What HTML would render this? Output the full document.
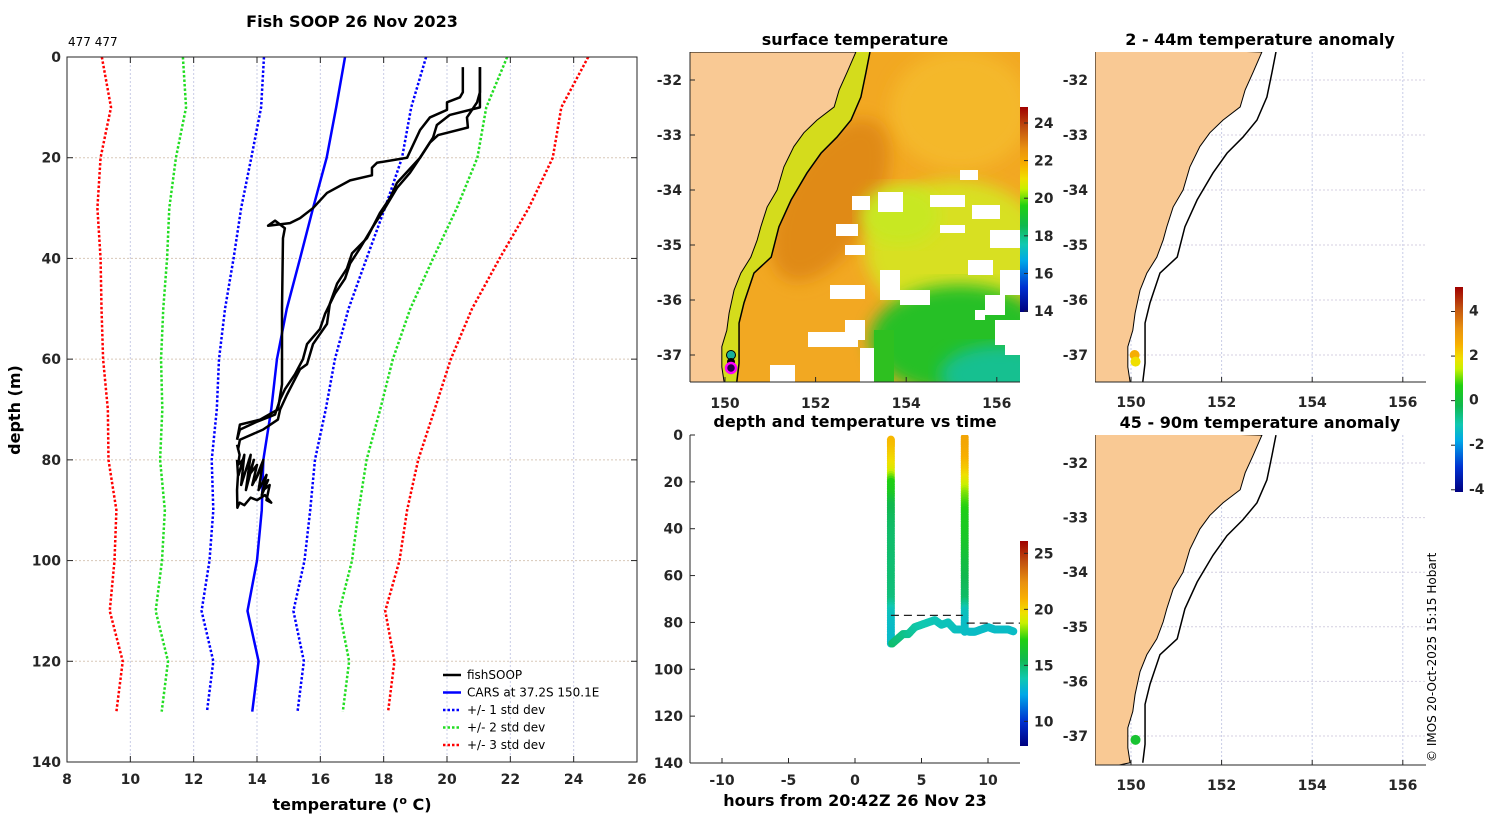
<!DOCTYPE html>
<html><head><meta charset="utf-8"><style>
html,body{margin:0;padding:0;background:#fff;}
svg{display:block;font-family:"DejaVu Sans","Liberation Sans",sans-serif;}
.tk{font-size:14px;font-weight:bold;fill:#262626;}
.ttl{font-size:16px;font-weight:bold;fill:#000;}
.lg{font-size:12px;fill:#000;}
</style></head><body>
<svg id="fig" width="1500" height="820" viewBox="0 0 1500 820">
<defs>
<clipPath id="clipMain"><rect x="67" y="57" width="570" height="705"/></clipPath>
<clipPath id="clipMap"><rect x="690" y="52" width="330" height="330"/></clipPath>
<clipPath id="clipA1"><rect x="1095" y="52" width="331" height="330"/></clipPath>
<clipPath id="clipA2"><rect x="1095" y="435" width="331" height="330"/></clipPath>
<clipPath id="clipTime"><rect x="690" y="435" width="330" height="328"/></clipPath>
<filter id="blur8"><feGaussianBlur stdDeviation="8"/></filter>
<filter id="blur4"><feGaussianBlur stdDeviation="4"/></filter>
<linearGradient id="cbJet" x1="0" y1="1" x2="0" y2="0">
<stop offset="0" stop-color="#00007F"/><stop offset="0.12" stop-color="#0030D0"/><stop offset="0.25" stop-color="#00A8E8"/><stop offset="0.33" stop-color="#10C8B0"/><stop offset="0.42" stop-color="#10B850"/><stop offset="0.52" stop-color="#20D010"/><stop offset="0.6" stop-color="#C8F000"/><stop offset="0.65" stop-color="#F0E000"/><stop offset="0.72" stop-color="#F8B000"/><stop offset="0.8" stop-color="#E89010"/><stop offset="0.9" stop-color="#C05010"/><stop offset="1" stop-color="#A00000"/>
</linearGradient>
</defs>
<g id="main"></g>
<g id="map"></g>
<g id="timechart"></g>
<g id="anom1"></g>
<g id="anom2"></g>
<text x="1436" y="762" transform="rotate(-90 1436 762)" font-size="12" fill="#000">© IMOS 20-Oct-2025 15:15 Hobart</text>
</svg>
<script>
// ===== Profile chart data =====
const carsDepth = [0,10,20,30,40,50,60,70,80,90,100,110,120,130];
const carsMean  = [16.78,16.5,16.2,15.77,15.36,14.94,14.63,14.45,14.2,14.15,14.0,13.7,14.05,13.85];
const carsStd   = [2.56,2.37,2.38,2.27,2.1,1.95,1.83,1.72,1.63,1.53,1.5,1.45,1.43,1.43];
const stdMult   = [1,2,3];
const stdColors = ['#0000ff','#22dd22','#ff0000'];
const fish1T = [21.04,21.04,20.09,19.68,19.56,19.15,18.42,18.2,17.88,17.47,17.0,16.84,16.53,16.3,16.21,15.77,15.58,15.36,14.95,14.73,14.66,14.19,13.46,13.4];
const fish1D = [2,10,11.5,13.5,16,20,25,28,31,36,39,42,45,49,53,57,61,62,67,70,72,74,76,78];
const fish2T = [21.04,21.04,20.95,20.63,20.66,19.72,19.46,19.15,18.83,18.42,18.04,17.63,17.25,16.94,16.78,16.46,16.15,15.99,15.58,15.45,15.2,14.88,14.73,14.57,13.97,13.46,13.37];
const fish2D = [2,7,9,12,14,15.5,17,20,23,26,30,34,38,41,44,47,51,54,57,60,63,66,68,71,72.5,74,76];
const fish3T = [20.5,20.5,20.41,20.0,20.0,19.46,19.15,18.74,17.79,17.63,17.63,16.94,16.21,15.77,15.36,15.04,14.35,14.57,14.88,14.82,14.79,14.79,14.66,14.1,13.46,13.37];
const fish3D = [2,7,8,9,10.5,12,14.5,20,21,22,23.5,24.5,27,30,32,33,33.5,32.5,34,36,50,65,70,72,73,76];
const fish4T = [13.37,13.45,13.4,13.55,13.42,13.6,13.5,13.7,13.55,13.8,13.65,13.9,13.75,14.0,13.85,14.1,13.95,14.2,14.05,14.3,14.15,14.35,14.2,14.4,14.3,14.45,14.25,14.0,13.8,13.6,13.45,13.38,13.37,13.4,13.37];
const fish4D = [77,79,81,80,83,79,85,81,84,79,86,80,83,81,85,82,84,80,86,83,87,84,86,85,88,88.5,87,88,87.5,89,88.5,89.5,86,83,80];
const tempTicks = [8,10,12,14,16,18,20,22,24,26];
const depthTicks = [0,20,40,60,80,100,120,140];

// ===== Depth-time chart data =====
const cast1Time = 2.7, cast2Time = 8.25;
const cast1Depth = [2,5,10,15,20,25,30,35,40,45,50,55,60,65,70,75,80,85,89];
const cast1Temp  = [20.8,20.6,20.0,19.3,17.3,16.8,15.6,15.3,15.1,15.0,15.0,14.9,14.9,14.8,14.7,13.6,13.3,13.2,13.2];
const cast2Depth = [1,5,10,15,20,25,30,35,40,45,50,55,60,65,70,75,80,84];
const cast2Temp  = [21.5,21.4,21.0,20.3,19.3,18.2,17.5,17.0,16.8,16.6,16.3,15.9,15.6,15.3,15.1,13.6,13.3,13.3];
const bottomTime  = [2.8,3.2,3.6,4.0,4.5,5.0,5.5,6.0,6.5,7.0,7.5,8.0,8.6,9.0,9.5,10.0,10.5,11.0,11.5,12.0];
const bottomDepth = [89,87,85,85,82,81,80,79,81,80,83,83,84,84,83,82,83,83,83,84];
const bottomTemp  = [15.0,14.8,14.6,14.4,14.1,13.9,13.8,13.7,13.6,13.6,13.5,13.4,13.3,13.3,13.3,13.3,13.3,13.3,13.3,13.3];
const dashDepth = [77, 80.3];
const timeTicks = [-10,-5,0,5,10];
const tcDepthTicks = [0,20,40,60,80,100,120,140];
const tcCbTicks = [10,15,20,25];

// ===== Map data =====
const coastLon = [152.89,152.69,152.52,152.41,152.03,151.74,151.52,151.3,151.15,150.93,150.79,150.71,150.57,150.35,150.2,150.09,150.04,149.93,149.93,149.98];
const coastLat = [-31.49,-31.87,-32.18,-32.49,-32.73,-32.96,-33.21,-33.58,-34.0,-34.31,-34.67,-34.91,-35.22,-35.51,-35.82,-36.24,-36.55,-36.85,-37.22,-37.49];
const isoLon = [153.2,153.11,153.0,152.78,152.47,152.12,151.81,151.46,151.19,151.02,150.64,150.42,150.31,150.31,150.26];
const isoLat = [-31.49,-31.87,-32.31,-32.73,-33.04,-33.33,-33.69,-34.18,-34.67,-35.22,-35.51,-36.05,-36.42,-37.15,-37.49];
const lonTicks = [150,152,154,156];
const latTicks = [-32,-33,-34,-35,-36,-37];
const sstTicks = [14,16,18,20,22,24];
const anomTicks = [-4,-2,0,2,4];
const anom1Lon = [150.08,150.1], anom1Lat = [-37.0,-37.12], anom1Val = [2.6,1.9];
const anom2Lon = [150.1], anom2Lat = [-37.07], anom2Val = [0.2];

const NS='http://www.w3.org/2000/svg';
function el(tag, attrs, parent){const e=document.createElementNS(NS,tag);for(const k in attrs)e.setAttribute(k,attrs[k]);parent.appendChild(e);return e;}
function txt(parent,x,y,s,cls,anchor){const t=el('text',{x:x,y:y,'class':cls,'text-anchor':anchor||'middle'},parent);t.textContent=s;return t;}

const cmStops=[[0,[0,0,127]],[0.12,[0,48,208]],[0.25,[0,168,232]],[0.33,[16,200,176]],[0.42,[16,184,80]],[0.52,[32,208,16]],[0.6,[200,240,0]],[0.65,[240,224,0]],[0.72,[248,176,0]],[0.8,[232,144,16]],[0.9,[192,80,16]],[1,[160,0,0]]];
function cmap(f){f=Math.max(0,Math.min(1,f));for(let i=1;i<cmStops.length;i++){if(f<=cmStops[i][0]){const a=cmStops[i-1],b=cmStops[i];const u=(f-a[0])/(b[0]-a[0]);const c=a[1].map((v,j)=>Math.round(v+(b[1][j]-v)*u));return 'rgb('+c.join(',')+')';}}return 'rgb(160,0,0)';}

// ================= Profile chart =================
(function(){
const g=document.getElementById('main');
const X=t=>67+(t-8)*570/18, Y=d=>57+d*705/140;
tempTicks.forEach(t=>{
  const l=el('line',{x1:X(t),x2:X(t),y1:57,y2:762,stroke:'#c8cce6','stroke-width':1,'stroke-dasharray':'2 2'},g);
  
  
  el('line',{x1:X(t),x2:X(t),y1:762,y2:756,stroke:'#262626'},g);
  el('line',{x1:X(t),x2:X(t),y1:57,y2:63,stroke:'#262626'},g);
  const tt=txt(g,X(t),784,String(t),'tk');
  
  
});
depthTicks.forEach(d=>{
  const l=el('line',{x1:67,x2:637,y1:Y(d),y2:Y(d),stroke:'#d8c8b8','stroke-width':1,'stroke-dasharray':'2 2'},g);
  
  
  el('line',{x1:67,x2:73,y1:Y(d),y2:Y(d),stroke:'#262626'},g);
  el('line',{x1:637,x2:631,y1:Y(d),y2:Y(d),stroke:'#262626'},g);
  const tt=txt(g,61,Y(d)+5,String(d),'tk','end');
  
  
});
const plot=el('g',{'clip-path':'url(#clipMain)'},g);
stdMult.forEach((k,i)=>{
  [-1,1].forEach(s=>{
    const pts=carsDepth.map((d,j)=>X(carsMean[j]+s*k*carsStd[j])+','+Y(d)).join(' ');
    const p=el('polyline',{points:pts,fill:'none',stroke:stdColors[i],'stroke-width':2.5,'stroke-dasharray':'2.5 2'},plot);
    
    
  });
});
const cp=el('polyline',{points:carsDepth.map((d,j)=>X(carsMean[j])+','+Y(d)).join(' '),fill:'none',stroke:'#0000ff','stroke-width':2.5},plot);


[[fish1T,fish1D],[fish2T,fish2D],[fish3T,fish3D],[fish4T,fish4D]].forEach((tr,i)=>{
  const p=el('polyline',{points:tr[0].map((t,j)=>X(t)+','+Y(tr[1][j])).join(' '),fill:'none',stroke:'#000','stroke-width':2.5,'stroke-linejoin':'round'},plot);
  
  
});
el('rect',{x:67,y:57,width:570,height:705,fill:'none',stroke:'#262626','stroke-width':1},g);
const ti=txt(g,352,27,'Fish SOOP 26 Nov 2023','ttl');


const sm=txt(g,68,46,'477 477','lg','start');sm.setAttribute('font-size','10');


const yl=el('text',{x:20,y:410,'class':'ttl','text-anchor':'middle',transform:'rotate(-90 20 410)'},g);yl.textContent='depth (m)';


const xl=el('text',{x:352,y:810,'class':'ttl','text-anchor':'middle'},g);
xl.innerHTML='temperature (<tspan dy="-6" font-size="11">o</tspan><tspan dy="6"> C)</tspan>';


const lg=el('g',{},g);


const items=[['fishSOOP','#000',''],['CARS at 37.2S 150.1E','#0000ff',''],['+/- 1 std dev','#0000ff','2.5 2'],['+/- 2 std dev','#22dd22','2.5 2'],['+/- 3 std dev','#ff0000','2.5 2']];
items.forEach((it,i)=>{
  const y=675+i*17.5;
  const e=el('g',{},lg);
  
  
  el('line',{x1:443,x2:461,y1:y,y2:y,stroke:it[1],'stroke-width':2.5,'stroke-dasharray':it[2]},e);
  txt(e,467,y+4,it[0],'lg','start');
});
})();

// ================= SST map =================
(function(){
const g=document.getElementById('map');
const X=l=>725+(l-150)*45.3, Y=a=>80-(a+32)*55;
const clip=el('g',{'clip-path':'url(#clipMap)'},g);
el('rect',{x:690,y:52,width:330,height:330,fill:'#F2A822'},clip);
el('ellipse',{cx:960,cy:110,rx:70,ry:60,fill:'#F4B82A',filter:'url(#blur8)'},clip);
el('ellipse',{cx:830,cy:200,rx:45,ry:90,fill:'#E08A18',filter:'url(#blur8)',transform:'rotate(30 830 200)'},clip);
el('ellipse',{cx:955,cy:250,rx:90,ry:70,fill:'#D8E020',filter:'url(#blur8)'},clip);
el('ellipse',{cx:900,cy:215,rx:40,ry:30,fill:'#C8E820',filter:'url(#blur8)'},clip);
el('ellipse',{cx:960,cy:340,rx:90,ry:55,fill:'#28C028',filter:'url(#blur8)'},clip);
el('ellipse',{cx:1000,cy:375,rx:60,ry:30,fill:'#18C090',filter:'url(#blur8)'},clip);
el('rect',{x:874,y:330,width:20,height:52,fill:'#2EC020'},clip);
const band=coastLon.map((l,j)=>X(l)+','+Y(coastLat[j])).concat(isoLon.slice().reverse().map((l,j)=>X(l)+','+Y(isoLat[isoLat.length-1-j]))).join(' ');
el('polygon',{points:band,fill:'#D4DC1C'},clip);
const wp=[[852,196,18,14],[878,192,25,20],[836,224,22,12],[960,170,18,10],[930,195,35,12],[972,205,28,14],[990,230,30,18],[940,225,25,8],[845,245,20,10],[830,285,35,14],[880,270,20,30],[900,290,30,15],[968,260,25,15],[1000,270,20,25],[985,295,20,20],[995,320,25,25],[1005,340,15,15],[808,332,50,15],[845,320,20,20],[860,348,14,34],[770,365,25,17],[975,310,10,10]];
wp.forEach(r=>el('rect',{x:r[0],y:r[1],width:r[2],height:r[3],fill:'#fff'},clip));
const land=coastLon.map((l,j)=>X(l)+','+Y(coastLat[j])).join(' ')+' 690,382 690,52';
const lp=el('polygon',{points:land,fill:'#F9C994',stroke:'#000','stroke-width':1},clip);


const ib=el('polyline',{points:isoLon.map((l,j)=>X(l)+','+Y(isoLat[j])).join(' '),fill:'none',stroke:'#000','stroke-width':1.5},clip);


el('circle',{cx:731,cy:355,r:4.5,fill:'#18B098',stroke:'#000','stroke-width':1},clip);
el('circle',{cx:731,cy:362,r:4,fill:'#000'},clip);
el('circle',{cx:731,cy:368,r:5,fill:'#220044',stroke:'#FF00FF','stroke-width':2.5},clip);
latTicks.forEach(a=>{el('line',{x1:690,x2:695,y1:Y(a),y2:Y(a),stroke:'#262626'},g);
  const t=txt(g,682,Y(a)+5,String(a),'tk','end');
  
  });
lonTicks.forEach(l=>{el('line',{x1:X(l),x2:X(l),y1:382,y2:377,stroke:'#262626'},g);
  const t=txt(g,X(l),408,String(l),'tk');
  
  });
el('line',{x1:690,x2:690,y1:52,y2:382,stroke:'#262626'},g);
el('line',{x1:690,x2:1020,y1:382,y2:382,stroke:'#262626'},g);
const t=txt(g,855,45,'surface temperature','ttl');


const cb=el('rect',{x:1020,y:107,width:8,height:205,fill:'url(#cbJet)'},g);


const CY=v=>312-(v-13.95)*205/10.9;
sstTicks.forEach(v=>{el('line',{x1:1028,x2:1024,y1:CY(v),y2:CY(v),stroke:'#262626'},g);txt(g,1034,CY(v)+5,String(v),'tk','start');});
})();

// ================= Depth-time chart =================
(function(){
const g=document.getElementById('timechart');
const X=t=>855+t*(988-855)/10, Y=d=>435+d*328/140;
const cf=v=>cmap((v-7.8)/(26.1-7.8));
const clip=el('g',{'clip-path':'url(#clipTime)'},g);
function dot(t,d,v){const c=el('circle',{cx:X(t),cy:Y(d),r:4,fill:cf(v)},clip);
  
  }
function cast(tm,D,T){for(let i=0;i<D.length-1;i++){for(let k=0;k<5;k++){const u=k/5;dot(tm,D[i]+(D[i+1]-D[i])*u,T[i]+(T[i+1]-T[i])*u);}}dot(tm,D[D.length-1],T[T.length-1]);}
cast(cast1Time,cast1Depth,cast1Temp);
cast(cast2Time,cast2Depth,cast2Temp);
for(let i=0;i<bottomTime.length-1;i++){for(let k=0;k<5;k++){const u=k/5;dot(bottomTime[i]+(bottomTime[i+1]-bottomTime[i])*u,bottomDepth[i]+(bottomDepth[i+1]-bottomDepth[i])*u,bottomTemp[i]+(bottomTemp[i+1]-bottomTemp[i])*u);}}
const d1=el('line',{x1:X(cast1Time),x2:X(8.1),y1:Y(dashDepth[0]),y2:Y(dashDepth[0]),stroke:'#222','stroke-width':1.3,'stroke-dasharray':'8 5'},g);


const d2=el('line',{x1:X(8.4),x2:1020,y1:Y(dashDepth[1]),y2:Y(dashDepth[1]),stroke:'#222','stroke-width':1.3,'stroke-dasharray':'8 5'},g);


el('line',{x1:690,x2:690,y1:435,y2:763,stroke:'#262626'},g);
el('line',{x1:690,x2:1020,y1:763,y2:763,stroke:'#262626'},g);
tcDepthTicks.forEach(d=>{el('line',{x1:690,x2:695,y1:Y(d),y2:Y(d),stroke:'#262626'},g);
  const t=txt(g,683,Y(d)+5,String(d),'tk','end');
  
  });
timeTicks.forEach(tm=>{el('line',{x1:X(tm),x2:X(tm),y1:763,y2:758,stroke:'#262626'},g);
  const t=txt(g,X(tm),785,String(tm),'tk');
  
  });
const tt=txt(g,855,427,'depth and temperature vs time','ttl');


const xl=txt(g,855,806,'hours from 20:42Z 26 Nov 23','ttl');


const cb=el('rect',{x:1020,y:541,width:8,height:205,fill:'url(#cbJet)'},g);


const CY=v=>746-(v-7.8)*205/18.3;
tcCbTicks.forEach(v=>{el('line',{x1:1028,x2:1024,y1:CY(v),y2:CY(v),stroke:'#262626'},g);txt(g,1034,CY(v)+5,String(v),'tk','start');});
})();

// ================= Anomaly maps =================
function anomMap(id,clipId,top,y32,pxLat,title,lons,lats,vals,showCb){
const g=document.getElementById(id);
const X=l=>1131+(l-150)*45.3, Y=a=>y32-(a+32)*pxLat;
const bottom=top+330;
latTicks.forEach(a=>{el('line',{x1:1095,x2:1426,y1:Y(a),y2:Y(a),stroke:'#d4cfe0','stroke-dasharray':'2 2'},g);
  el('line',{x1:1095,x2:1100,y1:Y(a),y2:Y(a),stroke:'#262626'},g);
  const t=txt(g,1088,Y(a)+5,String(a),'tk','end');
  
  });
lonTicks.forEach(l=>{el('line',{x1:X(l),x2:X(l),y1:top,y2:bottom,stroke:'#c8cce6','stroke-dasharray':'2 2'},g);
  el('line',{x1:X(l),x2:X(l),y1:bottom,y2:bottom-5,stroke:'#262626'},g);
  const t=txt(g,X(l),bottom+25,String(l),'tk');
  
  });
const clip=el('g',{'clip-path':'url('+clipId+')'},g);
const land=coastLon.map((l,j)=>X(l)+','+Y(coastLat[j])).join(' ')+' 1095,'+(bottom+5)+' 1095,'+(top-5);
const lp=el('polygon',{points:land,fill:'#F9C994',stroke:'#000','stroke-width':1},clip);


const ib=el('polyline',{points:isoLon.map((l,j)=>X(l)+','+Y(isoLat[j])).join(' '),fill:'none',stroke:'#000','stroke-width':1.5},clip);


lons.forEach((l,j)=>{const c=el('circle',{cx:X(l),cy:Y(lats[j]),r:5,fill:cmap((vals[j]+4.1)/9.2)},clip);
  
  });
el('line',{x1:1095,x2:1426,y1:bottom,y2:bottom,stroke:'#262626'},g);
const t=txt(g,1260,top-7,title,'ttl');


if(showCb){
  const cb=el('rect',{x:1455,y:287,width:8,height:205,fill:'url(#cbJet)'},g);
  
  
  const CY=v=>492-(v+4.1)*205/9.2;
  anomTicks.forEach(v=>{el('line',{x1:1455,x2:1451,y1:CY(v),y2:CY(v),stroke:'#262626'},g);
    const tl=txt(g,1469,CY(v)+4,String(v),'tk','start');tl.setAttribute('font-size','11');});
}
}
anomMap('anom1','#clipA1',52,80,55,'2 - 44m temperature anomaly',anom1Lon,anom1Lat,anom1Val,true);
anomMap('anom2','#clipA2',435,463,54.6,'45 - 90m temperature anomaly',anom2Lon,anom2Lat,anom2Val,false);
</script>
</body></html>
